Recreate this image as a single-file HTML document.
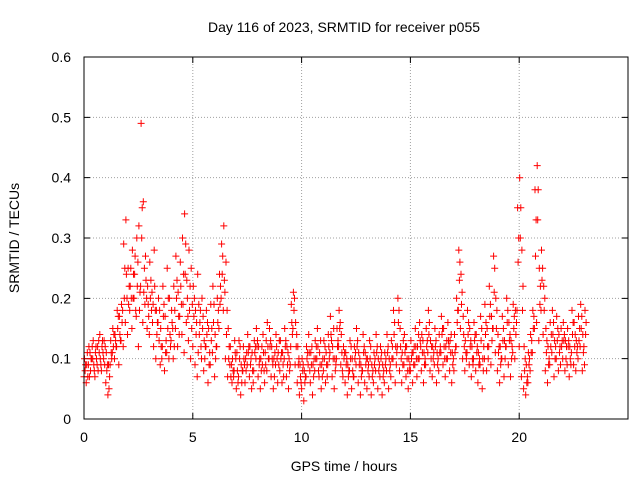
<!DOCTYPE html>
<html><head><meta charset="utf-8"><style>
html,body{margin:0;padding:0;background:#fff;}
svg{display:block;font-family:"Liberation Sans",sans-serif;}
</style></head><body>
<svg id="chart" width="640" height="480">
<text x="344" y="32" font-size="14" text-anchor="middle" fill="#000">Day 116 of 2023, SRMTID for receiver p055</text>
<text x="344" y="471" font-size="14" text-anchor="middle">GPS time / hours</text>
<text transform="translate(19,238) rotate(-90)" font-size="14" text-anchor="middle">SRMTID / TECUs</text>
<g id="grid"></g>
<g id="ticks"></g>
<g id="points"></g>
<rect x="84" y="57" width="544" height="362" fill="none" stroke="#000" stroke-width="1"/>
</svg>
<script>
const xTicks = [0, 5, 10, 15, 20];
const yTicks = [0, 0.1, 0.2, 0.3, 0.4, 0.5, 0.6];
const yTickLabels = ["0", "0.1", "0.2", "0.3", "0.4", "0.5", "0.6"];
const timeStep = 0.1;
const seriesLow = [
.07,.06,.09,.08,.10,.07,.09,.11,.08,.10,
.06,.04,.09,.11,.10,.12,.09,.13,.12,.16,
.14,.18,.15,.20,.17,.12,.22,.16,.19,.15,
.14,.18,.12,.10,.16,.09,.12,.08,.11,.10,
.13,.10,.15,.12,.17,.14,.11,.16,.13,.10,
.12,.09,.07,.14,.10,.08,.12,.06,.09,.11,
.07,.12,.15,.20,.18,.10,.07,.09,.06,.08,
.05,.07,.04,.08,.06,.09,.07,.05,.08,.10,
.07,.05,.09,.06,.08,.10,.07,.05,.09,.06,
.08,.06,.10,.07,.05,.12,.15,.09,.06,.04,
.05,.03,.07,.09,.06,.04,.08,.10,.07,.05,
.08,.06,.09,.11,.07,.05,.10,.12,.09,.07,
.06,.04,.08,.05,.07,.09,.06,.04,.08,.06,
.05,.07,.04,.06,.08,.05,.07,.04,.06,.08,
.05,.07,.10,.06,.12,.08,.06,.09,.07,.05,
.08,.06,.09,.07,.10,.08,.06,.09,.11,.08,
.07,.09,.06,.08,.11,.09,.07,.10,.08,.06,
.08,.12,.18,.15,.10,.08,.11,.09,.07,.10,
.08,.06,.09,.05,.10,.08,.12,.09,.15,.11,
.08,.06,.10,.07,.12,.09,.07,.11,.10,.18,
.12,.07,.05,.04,.06,.08,.11,.15,.16,.13,
.18,.14,.08,.06,.09,.11,.07,.10,.08,.09,
.10,.08,.09,.07,.11,.09,.08,.10,.12,.08,
.09];
const seriesHigh = [
.10,.09,.12,.10,.13,.11,.12,.14,.12,.13,
.11,.09,.13,.15,.14,.18,.17,.19,.29,.33,
.25,.22,.28,.24,.30,.32,.49,.36,.27,.22,
.26,.21,.28,.18,.20,.15,.22,.17,.25,.20,
.18,.22,.27,.21,.26,.30,.34,.23,.28,.25,
.22,.18,.24,.16,.20,.13,.18,.15,.19,.22,
.14,.20,.24,.29,.32,.26,.15,.12,.10,.13,
.11,.13,.09,.12,.10,.14,.12,.11,.13,.15,
.12,.10,.14,.11,.16,.15,.12,.10,.14,.11,
.13,.11,.15,.12,.10,.19,.21,.16,.12,.09,
.10,.08,.12,.14,.11,.09,.13,.15,.11,.09,
.13,.11,.14,.17,.12,.10,.15,.18,.14,.12,
.11,.09,.13,.10,.12,.15,.11,.09,.14,.11,
.10,.13,.09,.11,.14,.10,.12,.09,.11,.14,
.10,.13,.18,.12,.20,.15,.11,.14,.12,.10,
.13,.11,.15,.12,.16,.14,.11,.15,.18,.13,
.12,.15,.11,.14,.17,.15,.12,.16,.13,.11,
.14,.20,.28,.24,.17,.13,.18,.15,.12,.16,
.14,.11,.17,.10,.19,.15,.22,.17,.27,.20,
.14,.12,.17,.13,.20,.16,.13,.19,.18,.35,
.40,.28,.12,.09,.11,.14,.18,.38,.42,.25,
.28,.22,.15,.12,.16,.18,.13,.17,.14,.15,
.16,.13,.15,.12,.18,.16,.13,.17,.19,.14,
.18];
const seriesMid = [
.08,.11,.07,.10,.09,.12,.08,.10,.13,.09,
.08,.05,.11,.12,.13,.15,.14,.16,.20,.24,
.19,.25,.20,.27,.22,.18,.30,.21,.23,.19,
.20,.16,.22,.14,.13,.12,.17,.11,.15,.14,
.16,.12,.20,.17,.22,.19,.24,.20,.18,.15,
.17,.14,.11,.18,.15,.10,.14,.09,.13,.16,
.10,.16,.19,.24,.23,.14,.10,.07,.08,.11,
.08,.10,.06,.10,.08,.11,.09,.08,.11,.12,
.09,.08,.11,.09,.12,.12,.10,.07,.12,.09,
.10,.09,.12,.09,.08,.16,.18,.12,.09,.07,
.08,.06,.10,.11,.09,.07,.10,.12,.09,.07,
.10,.09,.12,.14,.10,.08,.12,.15,.11,.10,
.09,.07,.10,.08,.10,.12,.09,.07,.11,.09,
.08,.10,.07,.09,.11,.08,.10,.07,.09,.11,
.08,.10,.14,.09,.16,.12,.09,.11,.10,.08,
.10,.09,.12,.10,.13,.11,.09,.12,.14,.10,
.10,.12,.09,.11,.14,.12,.10,.13,.11,.09,
.11,.16,.23,.19,.14,.11,.14,.12,.10,.13,
.11,.09,.13,.08,.14,.12,.17,.13,.21,.15,
.11,.09,.13,.10,.16,.13,.10,.15,.14,.26,
.30,.18,.08,.06,.09,.11,.15,.27,.33,.19,
.23,.18,.11,.09,.12,.14,.10,.13,.11,.12,
.13,.10,.12,.10,.14,.12,.11,.13,.15,.11,
.14];
const seriesExtra = [
.09,.07,.11,.12,.08,.10,.13,.09,.11,.12,
.09,.07,.10,.14,.12,.17,.13,.18,.25,.20,
.22,.20,.24,.18,.26,.21,.35,.25,.20,.17,
.23,.19,.18,.16,.18,.10,.19,.13,.20,.12,
.15,.18,.23,.14,.19,.24,.29,.17,.22,.19,
.20,.16,.19,.12,.17,.12,.16,.11,.15,.19,
.12,.18,.22,.27,.21,.18,.12,.09,.07,.10,
.06,.12,.08,.09,.11,.12,.10,.06,.12,.13,
.10,.12,.08,.13,.10,.13,.09,.11,.10,.13,
.11,.07,.13,.11,.09,.14,.20,.14,.10,.06,
.09,.07,.11,.08,.12,.10,.12,.08,.13,.10,
.12,.07,.10,.13,.15,.09,.13,.16,.08,.11,
.10,.08,.12,.07,.11,.13,.10,.08,.12,.10,
.09,.12,.08,.10,.12,.09,.11,.08,.10,.12,
.09,.12,.16,.11,.18,.10,.13,.12,.08,.09,
.11,.12,.10,.14,.12,.13,.10,.13,.16,.12,
.11,.13,.10,.12,.15,.10,.13,.12,.14,.10,
.12,.18,.26,.21,.12,.10,.16,.13,.09,.14,
.12,.10,.15,.12,.16,.10,.19,.15,.25,.18,
.12,.10,.15,.12,.18,.14,.12,.17,.16,.30,
.35,.22,.10,.07,.10,.13,.17,.33,.38,.22,
.25,.20,.13,.10,.14,.16,.12,.15,.12,.13,
.14,.12,.13,.09,.16,.14,.12,.15,.17,.12,
.16];

const X0 = 84, X1 = 628, Y0 = 419, Y1 = 57;
const xMax = 25, yMax = 0.6;
function xs(t){ return X0 + t / xMax * (X1 - X0); }
function ys(v){ return Y0 - v / yMax * (Y0 - Y1); }
const NS = "http://www.w3.org/2000/svg";
const grid = document.getElementById('grid');
const ticks = document.getElementById('ticks');
const pts = document.getElementById('points');

xTicks.forEach(function(t){
  const x = xs(t);
  if (t > 0) {
    const g = document.createElementNS(NS, 'line');
    g.setAttribute('x1', x); g.setAttribute('x2', x); g.setAttribute('y1', Y0); g.setAttribute('y2', Y1);
    g.setAttribute('stroke', '#a0a0a0'); g.setAttribute('stroke-dasharray', '1,2');
    
    
    grid.appendChild(g);
  }
  const tk = document.createElementNS(NS, 'path');
  tk.setAttribute('d', 'M' + x + ' ' + Y0 + 'v-6M' + x + ' ' + Y1 + 'v6');
  tk.setAttribute('stroke', '#000');
  
  
  ticks.appendChild(tk);
  const lb = document.createElementNS(NS, 'text');
  lb.setAttribute('x', x); lb.setAttribute('y', Y0 + 23);
  lb.setAttribute('text-anchor', 'middle'); lb.setAttribute('font-size', '14');
  lb.textContent = String(t);
  
  
  ticks.appendChild(lb);
});
yTicks.forEach(function(v, i){
  const y = ys(v);
  if (v > 0 && v < yMax) {
    const g = document.createElementNS(NS, 'line');
    g.setAttribute('x1', X0); g.setAttribute('x2', X1); g.setAttribute('y1', y); g.setAttribute('y2', y);
    g.setAttribute('stroke', '#a0a0a0'); g.setAttribute('stroke-dasharray', '1,2');
    
    
    grid.appendChild(g);
  }
  const tk = document.createElementNS(NS, 'path');
  tk.setAttribute('d', 'M' + X0 + ' ' + y + 'h6M' + X1 + ' ' + y + 'h-6');
  tk.setAttribute('stroke', '#000');
  
  
  ticks.appendChild(tk);
  const lb = document.createElementNS(NS, 'text');
  lb.setAttribute('x', X0 - 13); lb.setAttribute('y', y + 5);
  lb.setAttribute('text-anchor', 'end'); lb.setAttribute('font-size', '14');
  lb.textContent = yTickLabels[i];
  
  
  ticks.appendChild(lb);
});

function drawSeries(arr, offset, name){
  let d = '';
  arr.forEach(function(v, i){
    const x = xs(i * timeStep + offset), y = ys(v);
    d += 'M' + (x - 3.5).toFixed(1) + ' ' + y.toFixed(1) + 'h7M' + x.toFixed(1) + ' ' + (y - 3.5).toFixed(1) + 'v7';
  });
  const p = document.createElementNS(NS, 'path');
  p.setAttribute('d', d);
  p.setAttribute('stroke', '#ff0000');
  p.setAttribute('stroke-width', '1');
  p.setAttribute('fill', 'none');
  
  
  pts.appendChild(p);
}
drawSeries(seriesLow, 0, 'srmtid-points-low');
drawSeries(seriesMid, 0.05, 'srmtid-points-mid');
drawSeries(seriesHigh, 0.025, 'srmtid-points-high');
drawSeries(seriesExtra, 0.075, 'srmtid-points-extra');
</script>
</body></html>
